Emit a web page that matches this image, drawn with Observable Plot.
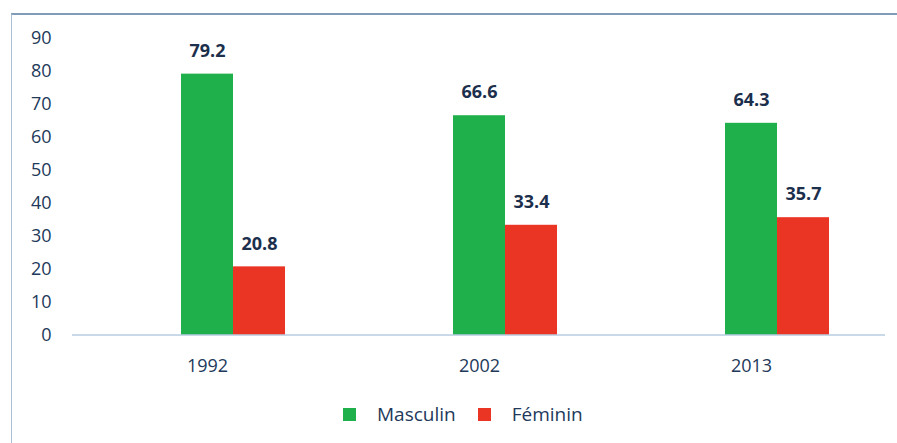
<!DOCTYPE html>
<html><head><meta charset="utf-8">
<script src="https://cdn.jsdelivr.net/npm/d3@7"></script>
<script src="https://cdn.jsdelivr.net/npm/@observablehq/plot@0.6"></script>
<style>
html,body{margin:0;padding:0;background:#fff;}
#wrap{position:relative;width:897px;height:443px;overflow:hidden;font-family:"Open Sans",sans-serif;}
#border{position:absolute;left:11px;top:13px;right:-5px;bottom:-5px;border-left:1px solid #a9bfd3;border-top:2px solid #7f9bb8;}
#chart{position:absolute;left:0;top:0;}
#legend{position:absolute;left:343px;top:401px;display:flex;align-items:center;font-size:19px;color:#22395a;}
.sw{width:13px;height:13px;display:inline-block;margin-right:21px;}
.item{display:flex;align-items:center;margin-right:22px;}
</style></head><body>
<div id="wrap"><div id="border"></div><div id="chart"></div><div id="legend"></div></div>
<script>
const years = ["1992", "2002", "2013"];
const series = ["Masculin", "Féminin"];
const masculin = [79.2, 66.6, 64.3];
const feminin = [20.8, 33.4, 35.7];
const yTicks = [0, 10, 20, 30, 40, 50, 60, 70, 80, 90];
const colors = ["#1fb04b", "#ea3424"];
const slots = [" ", ...series]; // empty slot before each pair, as in the source

const data = years.flatMap((y, i) => [
  {year: y, sex: series[0], value: masculin[i]},
  {year: y, sex: series[1], value: feminin[i]}
]);

const W = 897, H = 390, ML = 72, MR = 12;
const plot = Plot.plot({
  width: W, height: H,
  marginLeft: ML, marginRight: MR, marginTop: 38, marginBottom: 55,
  style: {fontFamily: "Open Sans", fontSize: "18px", color: "#22395a", background: "transparent"},
  fx: {domain: years, paddingInner: 0.42, paddingOuter: 0.2, label: null},
  x: {domain: slots, padding: 0, axis: null},
  y: {domain: [0, 90], label: null},
  color: {domain: series, range: colors},
  marks: [
    Plot.barY(data, {fx: "year", x: "sex", y: "value", fill: "sex"}),
    Plot.text(data, {fx: "year", x: "sex", y: "value", text: d => d.value.toFixed(1), dy: -23, lineAnchor: "middle", fontWeight: "bold", fill: "#1c2f4c", fontSize: 18}),
    Plot.axisY({ticks: yTicks, tickSize: 0, tickPadding: 77, label: null, fontSize: 18}),
    Plot.axisFx({anchor: "bottom", tickSize: 0, tickPadding: 24, label: null, fontSize: 18})
  ]
});
// baseline across the whole plot area, placed with the plot's own y scale
const y0 = plot.scale("y").apply(0);
d3.select(plot).append("line")
  .attr("x1", ML).attr("x2", W - MR)
  .attr("y1", y0).attr("y2", y0)
  .attr("stroke", "#b8cde0").attr("stroke-width", 1.5);
document.getElementById("chart").appendChild(plot);

const legend = document.getElementById("legend");
series.forEach((s, i) => {
  const item = document.createElement("span");
  item.className = "item";
  const sw = document.createElement("span");
  sw.className = "sw";
  sw.style.background = colors[i];
  const t = document.createElement("span");
  t.textContent = s;
  item.appendChild(sw);
  item.appendChild(t);
  legend.appendChild(item);
});
</script>
</body></html>
